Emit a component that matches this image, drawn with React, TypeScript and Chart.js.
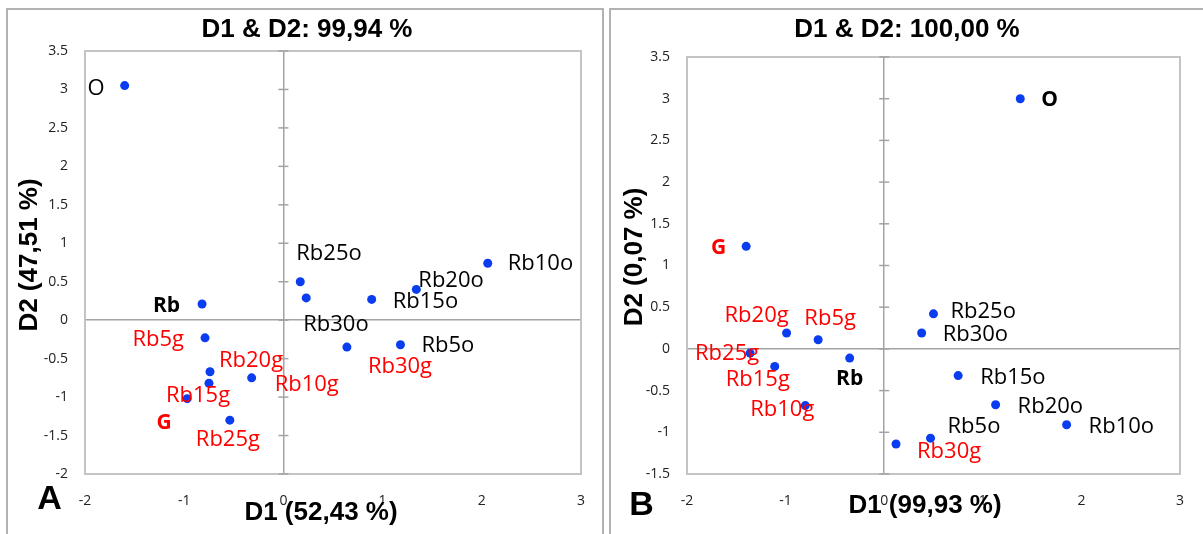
import React, { useEffect, useRef } from 'react';
import { Chart, registerables } from 'chart.js';

Chart.register(...registerables);

// ---------- data ----------
const POINT_NAMES = ['O', 'Rb', 'G', 'Rb5o', 'Rb10o', 'Rb15o', 'Rb20o', 'Rb25o', 'Rb30o', 'Rb5g', 'Rb10g', 'Rb15g', 'Rb20g', 'Rb25g', 'Rb30g'];

const A_D1 = [-1.60, -0.82, -0.97, 1.18, 2.06, 0.89, 1.34, 0.17, 0.23, -0.79, -0.32, -0.75, -0.74, -0.54, 0.64];
const A_D2 = [3.05, 0.21, -1.02, -0.32, 0.74, 0.27, 0.40, 0.50, 0.29, -0.23, -0.75, -0.82, -0.67, -1.30, -0.35];

const B_D1 = [1.38, -0.35, -1.40, 0.47, 1.85, 0.75, 1.13, 0.50, 0.38, -0.67, -0.80, -1.11, -0.99, -1.36, 0.12];
const B_D2 = [3.00, -0.11, 1.23, -1.07, -0.91, -0.32, -0.67, 0.42, 0.19, 0.11, -0.68, -0.21, 0.19, -0.05, -1.14];

const X_TICKS = [-2, -1, 0, 1, 2, 3];
const A_Y_TICKS = [-2, -1.5, -1, -0.5, 0, 0.5, 1, 1.5, 2, 2.5, 3, 3.5];
const B_Y_TICKS = [-1.5, -1, -0.5, 0, 0.5, 1, 1.5, 2, 2.5, 3, 3.5];

const A_TITLE = 'D1 & D2: 99,94 %';
const A_XTITLE = 'D1 (52,43 %)';
const A_YTITLE = 'D2 (47,51 %)';
const B_TITLE = 'D1 & D2: 100,00 %';
const B_XTITLE = 'D1 (99,93 %)';
const B_YTITLE = 'D2 (0,07 %)';

// ---------- label placement (align, dx, dy in px from the point) ----------
type Place = [CanvasTextAlign, number, number];
const A_LABEL_PLACE: Place[] = [
  ['right', -20, 3], ['right', -22, 2], ['center', -23, 24], ['left', 21, 1], ['left', 20, 0],
  ['left', 21, 2], ['left', 2, -9], ['left', -4, -28], ['left', -3, 27], ['right', -21, 2],
  ['left', 23, 7], ['left', -43, 12], ['left', 9, -11], ['left', -34, 20], ['left', 21, 20],
];
const B_LABEL_PLACE: Place[] = [
  ['left', 21, 1], ['center', 0, 21], ['right', -20, 2], ['left', 17, -11], ['left', 22, 2],
  ['left', 22, 2], ['left', 22, 2], ['left', 17, -2], ['left', 21, 2], ['center', 12, -21],
  ['center', -23, 4], ['center', -17, 13], ['center', -30, -17], ['center', -23, 1], ['left', 21, 8],
];
const A_BOLD = ['Rb', 'G'];
const B_BOLD = ['Rb', 'G', 'O'];

const DOT = '#0a3cf0';
const AXIS = '#a3a3a3';
const LABEL_FONT = '"Open Sans", "Noto Sans", sans-serif';
const TITLE_FONT = '"Liberation Sans", Arial, sans-serif';

type PanelSpec = {
  d1: number[]; d2: number[]; yTicks: number[]; place: Place[]; bold: string[];
  title: string; xTitle: string; yTitle: string; letter: string;
  width: number; area: { left: number; right: number; top: number; bottom: number };
  titlePos: [number, number]; xTitlePos: [number, number]; yTitlePos: [number, number]; letterPos: [number, number];
};

const PANEL_A: PanelSpec = {
  d1: A_D1, d2: A_D2, yTicks: A_Y_TICKS, place: A_LABEL_PLACE, bold: A_BOLD,
  title: A_TITLE, xTitle: A_XTITLE, yTitle: A_YTITLE, letter: 'A',
  width: 605, area: { left: 85, right: 581, top: 51, bottom: 474 },
  titlePos: [307, 30], xTitlePos: [321, 513], yTitlePos: [30, 255], letterPos: [49.5, 500],
};
const PANEL_B: PanelSpec = {
  d1: B_D1, d2: B_D2, yTicks: B_Y_TICKS, place: B_LABEL_PLACE, bold: B_BOLD,
  title: B_TITLE, xTitle: B_XTITLE, yTitle: B_YTITLE, letter: 'B',
  width: 598, area: { left: 82, right: 580, top: 57, bottom: 474 },
  titlePos: [302, 30], xTitlePos: [320, 506], yTitlePos: [29.5, 257], letterPos: [36.5, 506],
};

const HEIGHT = 534;

function makeChart(canvas: HTMLCanvasElement, p: PanelSpec) {
  const points = p.d1.map((x, i) => ({ x, y: p.d2[i] }));
  const decor = {
    id: 'decor',
    beforeDatasetsDraw(chart: any) {
      const { ctx, chartArea: ca, scales } = chart;
      ctx.save();
      ctx.strokeStyle = '#c4c4c4';
      ctx.lineWidth = 2;
      ctx.strokeRect(ca.left, ca.top, ca.right - ca.left, ca.bottom - ca.top);
      const x0 = scales.x.getPixelForValue(0);
      ctx.strokeStyle = AXIS;
      ctx.lineWidth = 1.5;
      p.yTicks.forEach((v) => {
        const y = scales.y.getPixelForValue(v);
        ctx.beginPath();
        ctx.moveTo(x0 - 5, y);
        ctx.lineTo(x0 + 5, y);
        ctx.stroke();
      });
      ctx.restore();
    },
    afterDatasetsDraw(chart: any) {
      const { ctx, scales } = chart;
      ctx.save();
      ctx.textBaseline = 'middle';
      POINT_NAMES.forEach((name, i) => {
        const px = scales.x.getPixelForValue(p.d1[i]);
        const py = scales.y.getPixelForValue(p.d2[i]);
        const [align, dx, dy] = p.place[i];
        const isBold = p.bold.includes(name);
        const red = name === 'G' || name.endsWith('g');
        ctx.font = (isBold ? 'bold 21px ' : '22px ') + LABEL_FONT;
        ctx.fillStyle = red ? '#ff0000' : '#000000';
        ctx.textAlign = align;
        ctx.fillText(name, px + dx, py + dy);
      });
      ctx.restore();
    },
    afterDraw(chart: any) {
      const { ctx } = chart;
      ctx.save();
      ctx.fillStyle = '#000';
      ctx.textAlign = 'center';
      ctx.textBaseline = 'middle';
      ctx.font = 'bold 26px ' + TITLE_FONT;
      ctx.fillText(p.title, p.titlePos[0], p.titlePos[1]);
      ctx.fillText(p.xTitle, p.xTitlePos[0], p.xTitlePos[1]);
      ctx.save();
      ctx.translate(p.yTitlePos[0], p.yTitlePos[1]);
      ctx.rotate(-Math.PI / 2);
      ctx.fillText(p.yTitle, 0, 0);
      ctx.restore();
      ctx.font = 'bold 34px ' + TITLE_FONT;
      ctx.fillText(p.letter, p.letterPos[0], p.letterPos[1]);
      ctx.restore();
    },
  };

  return new Chart(canvas, {
    type: 'scatter',
    data: {
      datasets: [{
        data: points,
        backgroundColor: DOT,
        borderColor: DOT,
        pointRadius: 4.5,
        pointHoverRadius: 4.5,
        borderWidth: 0,
      }],
    },
    options: {
      responsive: false,
      animation: false,
      devicePixelRatio: 1,
      events: [],
      layout: {
        padding: { left: 0, right: p.width - p.area.right, top: p.area.top, bottom: 0 },
      },
      plugins: { legend: { display: false }, tooltip: { enabled: false }, title: { display: false } },
      scales: {
        x: {
          type: 'linear',
          min: X_TICKS[0],
          max: X_TICKS[X_TICKS.length - 1],
          afterBuildTicks: (s: any) => { s.ticks = X_TICKS.map((v) => ({ value: v })); },
          afterFit: (s: any) => { s.height = HEIGHT - p.area.bottom; },
          border: { display: false },
          grid: {
            drawTicks: false,
            color: (c: any) => (c.tick && c.tick.value === 0 ? AXIS : 'rgba(0,0,0,0)'),
            lineWidth: 1.5,
          },
          ticks: {
            padding: 19,
            maxRotation: 0,
            autoSkip: false,
            color: '#222',
            font: { family: LABEL_FONT, size: 14 },
            callback: (v: any) => String(v),
          },
        },
        y: {
          type: 'linear',
          min: p.yTicks[0],
          max: p.yTicks[p.yTicks.length - 1],
          afterBuildTicks: (s: any) => { s.ticks = p.yTicks.map((v) => ({ value: v })); },
          afterFit: (s: any) => { s.width = p.area.left; },
          border: { display: false },
          grid: {
            drawTicks: false,
            color: (c: any) => (c.tick && c.tick.value === 0 ? AXIS : 'rgba(0,0,0,0)'),
            lineWidth: 1.5,
          },
          ticks: {
            padding: 17,
            autoSkip: false,
            color: '#222',
            font: { family: LABEL_FONT, size: 14 },
            callback: (v: any) => String(v),
          },
        },
      },
    },
    plugins: [decor],
  } as any);
}

function Panel({ spec, left }: { spec: PanelSpec; left: number }) {
  const ref = useRef<HTMLCanvasElement | null>(null);
  useEffect(() => {
    if (!ref.current) return;
    const chart = makeChart(ref.current, spec);
    return () => chart.destroy();
  }, [spec]);
  return (
    <canvas
      ref={ref}
      width={spec.width}
      height={HEIGHT}
      style={{ position: 'absolute', left, top: 0, width: spec.width, height: HEIGHT }}
    />
  );
}

export default function App() {
  return (
    <div style={{ position: 'fixed', left: 0, top: 0, width: 1203, height: HEIGHT, background: '#fff', overflow: 'hidden' }}>
      <div style={{ position: 'absolute', left: 6, top: 8, width: 598, height: 560, boxSizing: 'border-box', border: '2px solid #b2b2b2' }} />
      <div style={{ position: 'absolute', left: 609, top: 8, width: 600, height: 560, boxSizing: 'border-box', border: '2px solid #b2b2b2' }} />
      <Panel spec={PANEL_A} left={0} />
      <Panel spec={PANEL_B} left={605} />
    </div>
  );
}
